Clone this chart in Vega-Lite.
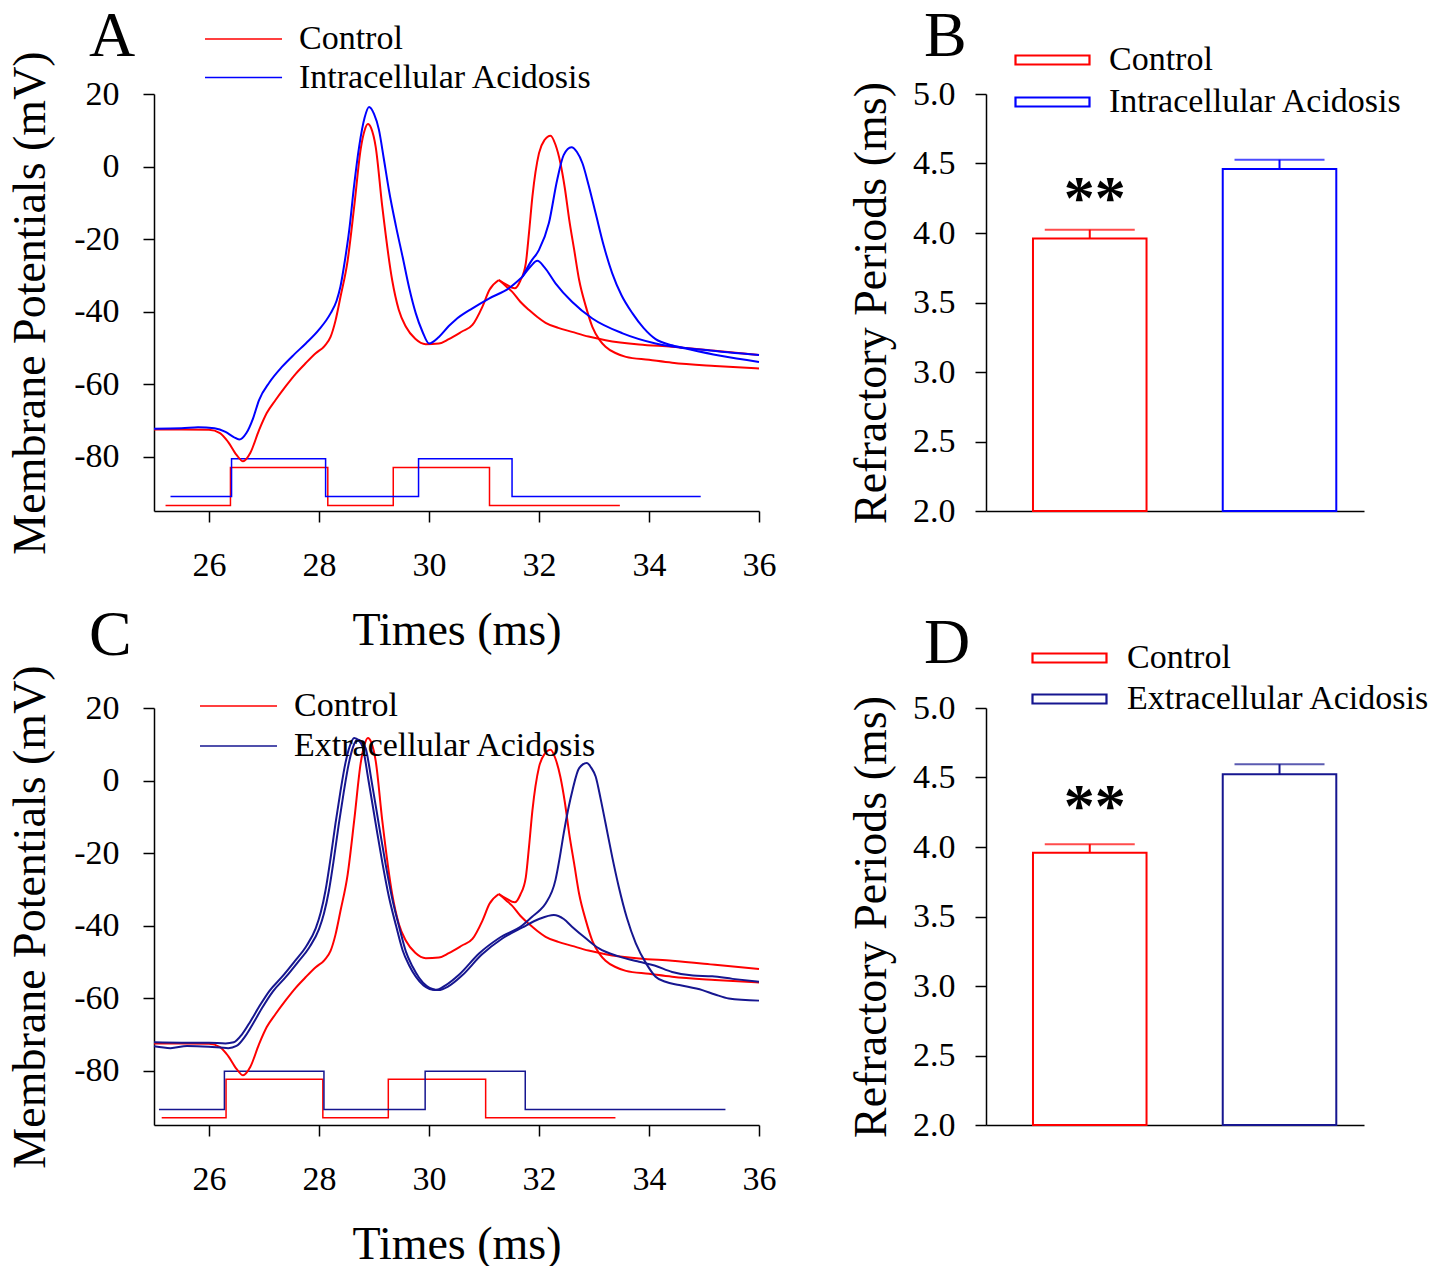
{
"$schema": "https://vega.github.io/schema/vega-lite/v6.json",
"padding": {"left": 7, "top": 5, "right": 0, "bottom": 0},
"background": "white",
"config": {
  "font": "Liberation Serif",
  "view": {"stroke": null},
  "axis": {"grid": false, "domainColor": "black", "domainWidth": 1.5, "tickColor": "black", "tickWidth": 1.5, "tickSize": 11, "labelFont": "Liberation Serif", "labelFontSize": 34, "labelColor": "black", "labelPadding": 24, "titleFont": "Liberation Serif", "titleFontSize": 46, "titleFontWeight": "normal", "titleColor": "black"},
  "legend": {"labelFont": "Liberation Serif", "labelFontSize": 34, "labelColor": "black", "labelLimit": 500},
  "title": {"font": "Liberation Serif", "fontSize": 64, "fontWeight": "normal", "color": "black", "anchor": "start", "frame": "group"}
},
"resolve": {"scale": {"color": "independent", "stroke": "independent"}, "legend": {"color": "independent", "stroke": "independent"}},
"datasets": {
  "lineA": [
    {"s":"Control","tr":"c0","t":25.0,"v":-72.5},{"s":"Control","tr":"c0","t":25.5,"v":-72.5},{"s":"Control","tr":"c0","t":26.0,"v":-72.6},{"s":"Control","tr":"c0","t":26.2,"v":-73.5},{"s":"Control","tr":"c0","t":26.35,"v":-76},{"s":"Control","tr":"c0","t":26.5,"v":-79.5},{"s":"Control","tr":"c0","t":26.62,"v":-81.3},{"s":"Control","tr":"c0","t":26.75,"v":-79},{"s":"Control","tr":"c0","t":26.91,"v":-72.7},{"s":"Control","tr":"c0","t":27.05,"v":-68},{"s":"Control","tr":"c0","t":27.21,"v":-64.4},{"s":"Control","tr":"c0","t":27.4,"v":-60.5},{"s":"Control","tr":"c0","t":27.58,"v":-57.1},{"s":"Control","tr":"c0","t":27.76,"v":-54.2},{"s":"Control","tr":"c0","t":27.94,"v":-51.5},{"s":"Control","tr":"c0","t":28.1,"v":-49.5},{"s":"Control","tr":"c0","t":28.21,"v":-47},{"s":"Control","tr":"c0","t":28.3,"v":-42.5},{"s":"Control","tr":"c0","t":28.39,"v":-36},{"s":"Control","tr":"c0","t":28.52,"v":-26},{"s":"Control","tr":"c0","t":28.64,"v":-11},{"s":"Control","tr":"c0","t":28.76,"v":5},{"s":"Control","tr":"c0","t":28.83,"v":10},{"s":"Control","tr":"c0","t":28.89,"v":11.7},{"s":"Control","tr":"c0","t":28.95,"v":10.5},{"s":"Control","tr":"c0","t":29.03,"v":5.5},{"s":"Control","tr":"c0","t":29.15,"v":-11},{"s":"Control","tr":"c0","t":29.33,"v":-31.3},{"s":"Control","tr":"c0","t":29.45,"v":-39.5},{"s":"Control","tr":"c0","t":29.58,"v":-44.2},{"s":"Control","tr":"c0","t":29.75,"v":-47.5},{"s":"Control","tr":"c0","t":29.94,"v":-49},{"s":"Control","tr":"c0","t":30.18,"v":-48.8},{"s":"Control","tr":"c0","t":30.36,"v":-47.6},{"s":"Control","tr":"c0","t":30.6,"v":-45.5},{"s":"Control","tr":"c0","t":30.79,"v":-43.7},{"s":"Control","tr":"c0","t":30.97,"v":-38.7},{"s":"Control","tr":"c0","t":31.1,"v":-34},{"s":"Control","tr":"c0","t":31.27,"v":-31.3},
    {"s":"Control","tr":"c1","t":31.27,"v":-31.3},{"s":"Control","tr":"c1","t":31.4,"v":-32.5},{"s":"Control","tr":"c1","t":31.56,"v":-33.6},{"s":"Control","tr":"c1","t":31.66,"v":-31.5},{"s":"Control","tr":"c1","t":31.76,"v":-26.7},{"s":"Control","tr":"c1","t":31.82,"v":-18},{"s":"Control","tr":"c1","t":31.88,"v":-8.3},{"s":"Control","tr":"c1","t":32.0,"v":3.7},{"s":"Control","tr":"c1","t":32.1,"v":7.3},{"s":"Control","tr":"c1","t":32.21,"v":8.5},{"s":"Control","tr":"c1","t":32.3,"v":6},{"s":"Control","tr":"c1","t":32.39,"v":0.9},{"s":"Control","tr":"c1","t":32.47,"v":-6},{"s":"Control","tr":"c1","t":32.55,"v":-14.7},{"s":"Control","tr":"c1","t":32.64,"v":-23},{"s":"Control","tr":"c1","t":32.73,"v":-31.3},{"s":"Control","tr":"c1","t":32.85,"v":-38.5},{"s":"Control","tr":"c1","t":32.97,"v":-44.2},{"s":"Control","tr":"c1","t":33.1,"v":-47.8},{"s":"Control","tr":"c1","t":33.21,"v":-49.7},{"s":"Control","tr":"c1","t":33.4,"v":-51.5},{"s":"Control","tr":"c1","t":33.58,"v":-52.5},{"s":"Control","tr":"c1","t":34.0,"v":-53.3},{"s":"Control","tr":"c1","t":34.42,"v":-54.1},{"s":"Control","tr":"c1","t":35.2,"v":-55},{"s":"Control","tr":"c1","t":36.0,"v":-55.7},
    {"s":"Control","tr":"c2","t":31.27,"v":-31.3},{"s":"Control","tr":"c2","t":31.4,"v":-33},{"s":"Control","tr":"c2","t":31.51,"v":-34.5},{"s":"Control","tr":"c2","t":31.66,"v":-37.3},{"s":"Control","tr":"c2","t":31.82,"v":-39.6},{"s":"Control","tr":"c2","t":31.97,"v":-41.5},{"s":"Control","tr":"c2","t":32.12,"v":-43.1},{"s":"Control","tr":"c2","t":32.35,"v":-44.5},{"s":"Control","tr":"c2","t":32.6,"v":-45.6},{"s":"Control","tr":"c2","t":32.9,"v":-46.9},{"s":"Control","tr":"c2","t":33.21,"v":-47.9},{"s":"Control","tr":"c2","t":33.82,"v":-49.1},{"s":"Control","tr":"c2","t":34.42,"v":-49.7},{"s":"Control","tr":"c2","t":35.2,"v":-50.8},{"s":"Control","tr":"c2","t":36.0,"v":-52},
    {"s":"Intracellular Acidosis","tr":"i0","t":25.0,"v":-72.3},{"s":"Intracellular Acidosis","tr":"i0","t":25.5,"v":-72.2},{"s":"Intracellular Acidosis","tr":"i0","t":25.8,"v":-71.9},{"s":"Intracellular Acidosis","tr":"i0","t":26.1,"v":-72.2},{"s":"Intracellular Acidosis","tr":"i0","t":26.3,"v":-73.2},{"s":"Intracellular Acidosis","tr":"i0","t":26.45,"v":-74.6},{"s":"Intracellular Acidosis","tr":"i0","t":26.55,"v":-75.3},{"s":"Intracellular Acidosis","tr":"i0","t":26.68,"v":-73.5},{"s":"Intracellular Acidosis","tr":"i0","t":26.8,"v":-69.5},{"s":"Intracellular Acidosis","tr":"i0","t":26.91,"v":-64.4},{"s":"Intracellular Acidosis","tr":"i0","t":27.1,"v":-59.5},{"s":"Intracellular Acidosis","tr":"i0","t":27.33,"v":-55.2},{"s":"Intracellular Acidosis","tr":"i0","t":27.55,"v":-51.8},{"s":"Intracellular Acidosis","tr":"i0","t":27.76,"v":-48.8},{"s":"Intracellular Acidosis","tr":"i0","t":28.0,"v":-45},{"s":"Intracellular Acidosis","tr":"i0","t":28.21,"v":-40.5},{"s":"Intracellular Acidosis","tr":"i0","t":28.32,"v":-37},{"s":"Intracellular Acidosis","tr":"i0","t":28.39,"v":-33.1},{"s":"Intracellular Acidosis","tr":"i0","t":28.47,"v":-26},{"s":"Intracellular Acidosis","tr":"i0","t":28.55,"v":-17.5},{"s":"Intracellular Acidosis","tr":"i0","t":28.64,"v":-5},{"s":"Intracellular Acidosis","tr":"i0","t":28.73,"v":5.5},{"s":"Intracellular Acidosis","tr":"i0","t":28.83,"v":13.5},{"s":"Intracellular Acidosis","tr":"i0","t":28.91,"v":16.4},{"s":"Intracellular Acidosis","tr":"i0","t":29.0,"v":14.5},{"s":"Intracellular Acidosis","tr":"i0","t":29.09,"v":10.1},{"s":"Intracellular Acidosis","tr":"i0","t":29.18,"v":2},{"s":"Intracellular Acidosis","tr":"i0","t":29.27,"v":-6.4},{"s":"Intracellular Acidosis","tr":"i0","t":29.4,"v":-16.5},{"s":"Intracellular Acidosis","tr":"i0","t":29.52,"v":-24.9},{"s":"Intracellular Acidosis","tr":"i0","t":29.64,"v":-33.5},{"s":"Intracellular Acidosis","tr":"i0","t":29.76,"v":-40.5},{"s":"Intracellular Acidosis","tr":"i0","t":29.88,"v":-45.5},{"s":"Intracellular Acidosis","tr":"i0","t":30.0,"v":-48.8},{"s":"Intracellular Acidosis","tr":"i0","t":30.18,"v":-47},{"s":"Intracellular Acidosis","tr":"i0","t":30.36,"v":-44},{"s":"Intracellular Acidosis","tr":"i0","t":30.48,"v":-42.3},{"s":"Intracellular Acidosis","tr":"i0","t":30.79,"v":-39.1},{"s":"Intracellular Acidosis","tr":"i0","t":31.09,"v":-36.4},{"s":"Intracellular Acidosis","tr":"i0","t":31.45,"v":-33.6},{"s":"Intracellular Acidosis","tr":"i0","t":31.7,"v":-30.4},
    {"s":"Intracellular Acidosis","tr":"i1","t":31.7,"v":-30.4},{"s":"Intracellular Acidosis","tr":"i1","t":31.85,"v":-27.5},{"s":"Intracellular Acidosis","tr":"i1","t":31.97,"v":-26},{"s":"Intracellular Acidosis","tr":"i1","t":32.1,"v":-27.8},{"s":"Intracellular Acidosis","tr":"i1","t":32.3,"v":-32.2},{"s":"Intracellular Acidosis","tr":"i1","t":32.6,"v":-37.3},{"s":"Intracellular Acidosis","tr":"i1","t":32.97,"v":-41.9},{"s":"Intracellular Acidosis","tr":"i1","t":33.52,"v":-46},{"s":"Intracellular Acidosis","tr":"i1","t":34.12,"v":-48.8},{"s":"Intracellular Acidosis","tr":"i1","t":35.03,"v":-50.6},{"s":"Intracellular Acidosis","tr":"i1","t":36.0,"v":-52},
    {"s":"Intracellular Acidosis","tr":"i2","t":31.7,"v":-30.4},{"s":"Intracellular Acidosis","tr":"i2","t":31.85,"v":-26.3},{"s":"Intracellular Acidosis","tr":"i2","t":32.0,"v":-23},{"s":"Intracellular Acidosis","tr":"i2","t":32.18,"v":-15.6},{"s":"Intracellular Acidosis","tr":"i2","t":32.33,"v":-3.7},{"s":"Intracellular Acidosis","tr":"i2","t":32.45,"v":3.2},{"s":"Intracellular Acidosis","tr":"i2","t":32.59,"v":5.3},{"s":"Intracellular Acidosis","tr":"i2","t":32.69,"v":4},{"s":"Intracellular Acidosis","tr":"i2","t":32.79,"v":0.9},{"s":"Intracellular Acidosis","tr":"i2","t":32.9,"v":-5},{"s":"Intracellular Acidosis","tr":"i2","t":33.03,"v":-12.9},{"s":"Intracellular Acidosis","tr":"i2","t":33.18,"v":-22},{"s":"Intracellular Acidosis","tr":"i2","t":33.33,"v":-29.4},{"s":"Intracellular Acidosis","tr":"i2","t":33.5,"v":-35.5},{"s":"Intracellular Acidosis","tr":"i2","t":33.7,"v":-40.5},{"s":"Intracellular Acidosis","tr":"i2","t":33.9,"v":-44.5},{"s":"Intracellular Acidosis","tr":"i2","t":34.12,"v":-47.6},{"s":"Intracellular Acidosis","tr":"i2","t":34.42,"v":-49.3},{"s":"Intracellular Acidosis","tr":"i2","t":34.73,"v":-50.4},{"s":"Intracellular Acidosis","tr":"i2","t":35.3,"v":-52.2},{"s":"Intracellular Acidosis","tr":"i2","t":36.0,"v":-53.9}
  ],
  "stimA": [
    {"s":"Control","t":25.21,"v":-93.5},{"s":"Control","t":26.39,"v":-83},{"s":"Control","t":28.16,"v":-93.5},{"s":"Control","t":29.35,"v":-83},{"s":"Control","t":31.1,"v":-93.5},{"s":"Control","t":33.47,"v":-93.5},
    {"s":"Intracellular Acidosis","t":25.3,"v":-91},{"s":"Intracellular Acidosis","t":26.41,"v":-80.6},{"s":"Intracellular Acidosis","t":28.12,"v":-91},{"s":"Intracellular Acidosis","t":29.81,"v":-80.6},{"s":"Intracellular Acidosis","t":31.51,"v":-91},{"s":"Intracellular Acidosis","t":34.94,"v":-91}
  ],
  "lineC": [
    {"s":"Control","tr":"c0","t":25.0,"v":-72.5},{"s":"Control","tr":"c0","t":25.5,"v":-72.5},{"s":"Control","tr":"c0","t":26.0,"v":-72.6},{"s":"Control","tr":"c0","t":26.2,"v":-73.5},{"s":"Control","tr":"c0","t":26.35,"v":-76},{"s":"Control","tr":"c0","t":26.5,"v":-79.5},{"s":"Control","tr":"c0","t":26.62,"v":-81.3},{"s":"Control","tr":"c0","t":26.75,"v":-79},{"s":"Control","tr":"c0","t":26.91,"v":-72.7},{"s":"Control","tr":"c0","t":27.05,"v":-68},{"s":"Control","tr":"c0","t":27.21,"v":-64.4},{"s":"Control","tr":"c0","t":27.4,"v":-60.5},{"s":"Control","tr":"c0","t":27.58,"v":-57.1},{"s":"Control","tr":"c0","t":27.76,"v":-54.2},{"s":"Control","tr":"c0","t":27.94,"v":-51.5},{"s":"Control","tr":"c0","t":28.1,"v":-49.5},{"s":"Control","tr":"c0","t":28.21,"v":-47},{"s":"Control","tr":"c0","t":28.3,"v":-42.5},{"s":"Control","tr":"c0","t":28.39,"v":-36},{"s":"Control","tr":"c0","t":28.52,"v":-26},{"s":"Control","tr":"c0","t":28.64,"v":-11},{"s":"Control","tr":"c0","t":28.76,"v":5},{"s":"Control","tr":"c0","t":28.83,"v":10},{"s":"Control","tr":"c0","t":28.89,"v":11.7},{"s":"Control","tr":"c0","t":28.95,"v":10.5},{"s":"Control","tr":"c0","t":29.03,"v":5.5},{"s":"Control","tr":"c0","t":29.15,"v":-11},{"s":"Control","tr":"c0","t":29.33,"v":-31.3},{"s":"Control","tr":"c0","t":29.45,"v":-39.5},{"s":"Control","tr":"c0","t":29.58,"v":-44.2},{"s":"Control","tr":"c0","t":29.75,"v":-47.5},{"s":"Control","tr":"c0","t":29.94,"v":-49},{"s":"Control","tr":"c0","t":30.18,"v":-48.8},{"s":"Control","tr":"c0","t":30.36,"v":-47.6},{"s":"Control","tr":"c0","t":30.6,"v":-45.5},{"s":"Control","tr":"c0","t":30.79,"v":-43.7},{"s":"Control","tr":"c0","t":30.97,"v":-38.7},{"s":"Control","tr":"c0","t":31.1,"v":-34},{"s":"Control","tr":"c0","t":31.27,"v":-31.3},
    {"s":"Control","tr":"c1","t":31.27,"v":-31.3},{"s":"Control","tr":"c1","t":31.4,"v":-32.5},{"s":"Control","tr":"c1","t":31.56,"v":-33.6},{"s":"Control","tr":"c1","t":31.66,"v":-31.5},{"s":"Control","tr":"c1","t":31.76,"v":-26.7},{"s":"Control","tr":"c1","t":31.82,"v":-18},{"s":"Control","tr":"c1","t":31.88,"v":-8.3},{"s":"Control","tr":"c1","t":32.0,"v":3.7},{"s":"Control","tr":"c1","t":32.1,"v":7.3},{"s":"Control","tr":"c1","t":32.21,"v":8.5},{"s":"Control","tr":"c1","t":32.3,"v":6},{"s":"Control","tr":"c1","t":32.39,"v":0.9},{"s":"Control","tr":"c1","t":32.47,"v":-6},{"s":"Control","tr":"c1","t":32.55,"v":-14.7},{"s":"Control","tr":"c1","t":32.64,"v":-23},{"s":"Control","tr":"c1","t":32.73,"v":-31.3},{"s":"Control","tr":"c1","t":32.85,"v":-38.5},{"s":"Control","tr":"c1","t":32.97,"v":-44.2},{"s":"Control","tr":"c1","t":33.1,"v":-47.8},{"s":"Control","tr":"c1","t":33.21,"v":-49.7},{"s":"Control","tr":"c1","t":33.4,"v":-51.5},{"s":"Control","tr":"c1","t":33.58,"v":-52.5},{"s":"Control","tr":"c1","t":34.0,"v":-53.3},{"s":"Control","tr":"c1","t":34.42,"v":-54.1},{"s":"Control","tr":"c1","t":35.2,"v":-55},{"s":"Control","tr":"c1","t":36.0,"v":-55.7},
    {"s":"Control","tr":"c2","t":31.27,"v":-31.3},{"s":"Control","tr":"c2","t":31.4,"v":-33},{"s":"Control","tr":"c2","t":31.51,"v":-34.5},{"s":"Control","tr":"c2","t":31.66,"v":-37.3},{"s":"Control","tr":"c2","t":31.82,"v":-39.6},{"s":"Control","tr":"c2","t":31.97,"v":-41.5},{"s":"Control","tr":"c2","t":32.12,"v":-43.1},{"s":"Control","tr":"c2","t":32.35,"v":-44.5},{"s":"Control","tr":"c2","t":32.6,"v":-45.6},{"s":"Control","tr":"c2","t":32.9,"v":-46.9},{"s":"Control","tr":"c2","t":33.21,"v":-47.9},{"s":"Control","tr":"c2","t":33.82,"v":-49.1},{"s":"Control","tr":"c2","t":34.42,"v":-49.7},{"s":"Control","tr":"c2","t":35.2,"v":-50.8},{"s":"Control","tr":"c2","t":36.0,"v":-52},
    {"s":"Extracellular Acidosis","tr":"n1","t":25.0,"v":-72.2},{"s":"Extracellular Acidosis","tr":"n1","t":25.5,"v":-72.3},{"s":"Extracellular Acidosis","tr":"n1","t":26.0,"v":-72.3},{"s":"Extracellular Acidosis","tr":"n1","t":26.3,"v":-72.5},{"s":"Extracellular Acidosis","tr":"n1","t":26.45,"v":-72.2},{"s":"Extracellular Acidosis","tr":"n1","t":26.6,"v":-70},{"s":"Extracellular Acidosis","tr":"n1","t":26.75,"v":-66.5},{"s":"Extracellular Acidosis","tr":"n1","t":26.91,"v":-62.4},{"s":"Extracellular Acidosis","tr":"n1","t":27.1,"v":-58},{"s":"Extracellular Acidosis","tr":"n1","t":27.33,"v":-54.1},{"s":"Extracellular Acidosis","tr":"n1","t":27.55,"v":-50},{"s":"Extracellular Acidosis","tr":"n1","t":27.76,"v":-45.9},{"s":"Extracellular Acidosis","tr":"n1","t":27.94,"v":-40.8},{"s":"Extracellular Acidosis","tr":"n1","t":28.03,"v":-36.5},{"s":"Extracellular Acidosis","tr":"n1","t":28.12,"v":-30.2},{"s":"Extracellular Acidosis","tr":"n1","t":28.21,"v":-21.5},{"s":"Extracellular Acidosis","tr":"n1","t":28.3,"v":-11.8},{"s":"Extracellular Acidosis","tr":"n1","t":28.39,"v":-3},{"s":"Extracellular Acidosis","tr":"n1","t":28.48,"v":4.8},{"s":"Extracellular Acidosis","tr":"n1","t":28.56,"v":9.5},{"s":"Extracellular Acidosis","tr":"n1","t":28.64,"v":11.7},{"s":"Extracellular Acidosis","tr":"n1","t":28.72,"v":11},{"s":"Extracellular Acidosis","tr":"n1","t":28.79,"v":9.4},{"s":"Extracellular Acidosis","tr":"n1","t":28.9,"v":0},{"s":"Extracellular Acidosis","tr":"n1","t":29.03,"v":-11.8},{"s":"Extracellular Acidosis","tr":"n1","t":29.15,"v":-22.5},{"s":"Extracellular Acidosis","tr":"n1","t":29.27,"v":-32},{"s":"Extracellular Acidosis","tr":"n1","t":29.4,"v":-40},{"s":"Extracellular Acidosis","tr":"n1","t":29.52,"v":-46.8},{"s":"Extracellular Acidosis","tr":"n1","t":29.64,"v":-51},{"s":"Extracellular Acidosis","tr":"n1","t":29.76,"v":-54.1},{"s":"Extracellular Acidosis","tr":"n1","t":29.9,"v":-56.5},{"s":"Extracellular Acidosis","tr":"n1","t":30.12,"v":-57.8},{"s":"Extracellular Acidosis","tr":"n1","t":30.3,"v":-56.5},{"s":"Extracellular Acidosis","tr":"n1","t":30.55,"v":-53.5},{"s":"Extracellular Acidosis","tr":"n1","t":30.91,"v":-47.7},{"s":"Extracellular Acidosis","tr":"n1","t":31.27,"v":-43.5},{"s":"Extracellular Acidosis","tr":"n1","t":31.7,"v":-39.9},{"s":"Extracellular Acidosis","tr":"n1","t":31.88,"v":-37.5},{"s":"Extracellular Acidosis","tr":"n1","t":32.0,"v":-36},{"s":"Extracellular Acidosis","tr":"n1","t":32.12,"v":-33.9},{"s":"Extracellular Acidosis","tr":"n1","t":32.3,"v":-27.4},{"s":"Extracellular Acidosis","tr":"n1","t":32.38,"v":-21},{"s":"Extracellular Acidosis","tr":"n1","t":32.45,"v":-14.5},{"s":"Extracellular Acidosis","tr":"n1","t":32.53,"v":-8},{"s":"Extracellular Acidosis","tr":"n1","t":32.61,"v":-2.6},{"s":"Extracellular Acidosis","tr":"n1","t":32.73,"v":3.4},{"s":"Extracellular Acidosis","tr":"n1","t":32.87,"v":4.8},{"s":"Extracellular Acidosis","tr":"n1","t":32.95,"v":3.5},{"s":"Extracellular Acidosis","tr":"n1","t":33.03,"v":1.1},{"s":"Extracellular Acidosis","tr":"n1","t":33.12,"v":-5},{"s":"Extracellular Acidosis","tr":"n1","t":33.21,"v":-11.8},{"s":"Extracellular Acidosis","tr":"n1","t":33.33,"v":-21},{"s":"Extracellular Acidosis","tr":"n1","t":33.45,"v":-29.3},{"s":"Extracellular Acidosis","tr":"n1","t":33.6,"v":-38},{"s":"Extracellular Acidosis","tr":"n1","t":33.76,"v":-44.9},{"s":"Extracellular Acidosis","tr":"n1","t":33.95,"v":-50.5},{"s":"Extracellular Acidosis","tr":"n1","t":34.12,"v":-54.1},{"s":"Extracellular Acidosis","tr":"n1","t":34.3,"v":-55.5},{"s":"Extracellular Acidosis","tr":"n1","t":34.55,"v":-56.4},{"s":"Extracellular Acidosis","tr":"n1","t":34.97,"v":-57.8},{"s":"Extracellular Acidosis","tr":"n1","t":35.2,"v":-59},{"s":"Extracellular Acidosis","tr":"n1","t":35.45,"v":-60.1},{"s":"Extracellular Acidosis","tr":"n1","t":36.0,"v":-60.7},
    {"s":"Extracellular Acidosis","tr":"n2","t":25.0,"v":-73.3},{"s":"Extracellular Acidosis","tr":"n2","t":25.3,"v":-73.8},{"s":"Extracellular Acidosis","tr":"n2","t":25.6,"v":-73.2},{"s":"Extracellular Acidosis","tr":"n2","t":26.0,"v":-73.4},{"s":"Extracellular Acidosis","tr":"n2","t":26.35,"v":-73.8},{"s":"Extracellular Acidosis","tr":"n2","t":26.5,"v":-73.2},{"s":"Extracellular Acidosis","tr":"n2","t":26.66,"v":-70.5},{"s":"Extracellular Acidosis","tr":"n2","t":26.81,"v":-66.8},{"s":"Extracellular Acidosis","tr":"n2","t":26.97,"v":-62.6},{"s":"Extracellular Acidosis","tr":"n2","t":27.16,"v":-58.2},{"s":"Extracellular Acidosis","tr":"n2","t":27.39,"v":-54.3},{"s":"Extracellular Acidosis","tr":"n2","t":27.61,"v":-50.2},{"s":"Extracellular Acidosis","tr":"n2","t":27.82,"v":-46.1},{"s":"Extracellular Acidosis","tr":"n2","t":28.0,"v":-41},{"s":"Extracellular Acidosis","tr":"n2","t":28.09,"v":-36.7},{"s":"Extracellular Acidosis","tr":"n2","t":28.18,"v":-30.4},{"s":"Extracellular Acidosis","tr":"n2","t":28.27,"v":-21.7},{"s":"Extracellular Acidosis","tr":"n2","t":28.36,"v":-12},{"s":"Extracellular Acidosis","tr":"n2","t":28.45,"v":-3.2},{"s":"Extracellular Acidosis","tr":"n2","t":28.54,"v":4.6},{"s":"Extracellular Acidosis","tr":"n2","t":28.62,"v":9.3},{"s":"Extracellular Acidosis","tr":"n2","t":28.7,"v":11.3},{"s":"Extracellular Acidosis","tr":"n2","t":28.78,"v":10.6},{"s":"Extracellular Acidosis","tr":"n2","t":28.85,"v":8.8},{"s":"Extracellular Acidosis","tr":"n2","t":28.96,"v":-0.5},{"s":"Extracellular Acidosis","tr":"n2","t":29.09,"v":-12.3},{"s":"Extracellular Acidosis","tr":"n2","t":29.21,"v":-23},{"s":"Extracellular Acidosis","tr":"n2","t":29.33,"v":-32.5},{"s":"Extracellular Acidosis","tr":"n2","t":29.46,"v":-40.5},{"s":"Extracellular Acidosis","tr":"n2","t":29.58,"v":-47.2},{"s":"Extracellular Acidosis","tr":"n2","t":29.7,"v":-51.3},{"s":"Extracellular Acidosis","tr":"n2","t":29.82,"v":-54.4},{"s":"Extracellular Acidosis","tr":"n2","t":29.96,"v":-56.7},{"s":"Extracellular Acidosis","tr":"n2","t":30.17,"v":-57.8},{"s":"Extracellular Acidosis","tr":"n2","t":30.35,"v":-56.8},{"s":"Extracellular Acidosis","tr":"n2","t":30.6,"v":-53.8},{"s":"Extracellular Acidosis","tr":"n2","t":30.96,"v":-48},{"s":"Extracellular Acidosis","tr":"n2","t":31.32,"v":-43.7},{"s":"Extracellular Acidosis","tr":"n2","t":31.7,"v":-40.5},{"s":"Extracellular Acidosis","tr":"n2","t":32.0,"v":-38.2},{"s":"Extracellular Acidosis","tr":"n2","t":32.27,"v":-37.1},{"s":"Extracellular Acidosis","tr":"n2","t":32.45,"v":-38.2},{"s":"Extracellular Acidosis","tr":"n2","t":32.6,"v":-40.3},{"s":"Extracellular Acidosis","tr":"n2","t":32.85,"v":-43.5},{"s":"Extracellular Acidosis","tr":"n2","t":33.09,"v":-46.3},{"s":"Extracellular Acidosis","tr":"n2","t":33.45,"v":-48.5},{"s":"Extracellular Acidosis","tr":"n2","t":33.82,"v":-50},{"s":"Extracellular Acidosis","tr":"n2","t":34.1,"v":-51},{"s":"Extracellular Acidosis","tr":"n2","t":34.42,"v":-52.8},{"s":"Extracellular Acidosis","tr":"n2","t":34.8,"v":-53.8},{"s":"Extracellular Acidosis","tr":"n2","t":35.15,"v":-54},{"s":"Extracellular Acidosis","tr":"n2","t":35.52,"v":-54.7},{"s":"Extracellular Acidosis","tr":"n2","t":36.0,"v":-55.5}
  ],
  "stimC": [
    {"s":"Control","t":25.14,"v":-93},{"s":"Control","t":26.31,"v":-82.4},{"s":"Control","t":28.07,"v":-93},{"s":"Control","t":29.26,"v":-82.4},{"s":"Control","t":31.03,"v":-93},{"s":"Control","t":33.39,"v":-93},
    {"s":"Extracellular Acidosis","t":25.09,"v":-90.7},{"s":"Extracellular Acidosis","t":26.28,"v":-80.2},{"s":"Extracellular Acidosis","t":28.09,"v":-90.7},{"s":"Extracellular Acidosis","t":29.93,"v":-80.2},{"s":"Extracellular Acidosis","t":31.75,"v":-90.7},{"s":"Extracellular Acidosis","t":35.39,"v":-90.7}
  ],
  "barB": [
    {"g":"Control","v":3.96,"u":4.024,"lab":"**"},
    {"g":"Intracellular Acidosis","v":4.46,"u":4.527,"lab":""}
  ],
  "barD": [
    {"g":"Control","v":3.958,"u":4.02,"lab":"**"},
    {"g":"Extracellular Acidosis","v":4.524,"u":4.596,"lab":""}
  ]
},
"columns": 2,
"bounds": "flush",
"spacing": {"row": 197, "column": 227},
"concat": [
  {
    "width": 605, "height": 417,
    "title": {"text": "A", "dx": -65, "dy": 104, "baseline": "alphabetic"},
    "layer": [
      {"data": {"name": "stimA"},
       "mark": {"type": "line", "interpolate": "step-after", "strokeWidth": 1.5},
       "encoding": {
         "x": {"field": "t", "type": "quantitative", "scale": {"domain": [25, 36], "nice": false, "zero": false}, "axis": {"values": [26, 28, 30, 32, 34, 36], "format": "d", "labelFlush": false, "labelPadding": 26, "title": "Times (ms)", "titlePadding": 26}},
         "y": {"field": "v", "type": "quantitative", "scale": {"domain": [-95, 20], "nice": false, "zero": false}, "axis": {"values": [-80, -60, -40, -20, 0, 20], "labelExpr": "replace(datum.label, '\u2212', '-')", "title": "Membrane Potentials (mV)", "titlePadding": 19}},
         "color": {"field": "s", "type": "nominal", "scale": {"domain": ["Control", "Intracellular Acidosis"], "range": ["#ff0000", "#0000ff"]},
           "legend": {"orient": "none", "legendX": 50, "legendY": -74, "title": null, "symbolType": "M-1,0H3.28", "symbolSize": 1296, "symbolStrokeWidth": 1.5, "labelOffset": 57, "rowPadding": 2.5}}
       }},
      {"data": {"name": "lineA"},
       "mark": {"type": "line", "interpolate": "monotone", "strokeWidth": 2},
       "encoding": {
         "x": {"field": "t", "type": "quantitative"},
         "y": {"field": "v", "type": "quantitative"},
         "color": {"field": "s", "type": "nominal",
           "legend": {"orient": "none", "legendX": 50, "legendY": -74, "title": null, "symbolType": "M-1,0H3.28", "symbolSize": 1296, "symbolStrokeWidth": 1.5, "labelOffset": 57, "rowPadding": 2.5}},
         "detail": {"field": "tr", "type": "nominal"}
       }}
    ]
  },
  {
    "width": 378, "height": 417,
    "title": {"text": "B", "dx": -62, "dy": 84, "baseline": "alphabetic"},
    "data": {"name": "barB"},
    "encoding": {
      "x": {"field": "g", "type": "nominal", "sort": null, "scale": {"paddingInner": 0.4016, "paddingOuter": 0.1968, "align": 0.629}, "axis": {"labels": false, "ticks": false, "title": null}}
    },
    "layer": [
      {"mark": {"type": "bar", "fill": "white", "strokeWidth": 2},
       "encoding": {
         "y": {"field": "v", "type": "quantitative", "scale": {"domain": [2, 5], "nice": false, "zero": false}, "axis": {"values": [2, 2.5, 3, 3.5, 4, 4.5, 5], "format": ".1f", "title": "Refractory Periods (ms)", "titlePadding": 17, "labelPadding": 20}},
         "y2": {"datum": 2},
         "stroke": {"field": "g", "type": "nominal", "scale": {"domain": ["Control", "Intracellular Acidosis"], "range": ["#ff0000", "#0000ff"]},
           "legend": {"orient": "none", "legendX": 28, "legendY": -54, "title": null, "symbolType": "M-1,-0.263H2.947V0.263H-1Z M-0.947,-0.21V0.21H2.894V-0.21Z", "symbolSize": 1444, "symbolStrokeWidth": 1.2, "symbolFillColor": "white", "labelOffset": 55, "rowPadding": 5}}
       }},
      {"mark": {"type": "rule", "strokeWidth": 2},
       "encoding": {
         "y": {"field": "v", "type": "quantitative", "axis": {"title": "Refractory Periods (ms)"}},
         "y2": {"field": "u"},
         "color": {"field": "g", "type": "nominal", "scale": {"domain": ["Control", "Intracellular Acidosis"], "range": ["#ff0000", "#0000ff"]}, "legend": null}
       }},
      {"mark": {"type": "tick", "size": 90, "thickness": 2},
       "encoding": {
         "y": {"field": "u", "type": "quantitative", "axis": {"title": "Refractory Periods (ms)"}},
         "color": {"field": "g", "type": "nominal", "legend": null}
       }},
      {"mark": {"type": "text", "fontSize": 62, "fontWeight": "bold", "baseline": "alphabetic", "dy": -12, "dx": 5, "color": "black"},
       "encoding": {
         "y": {"field": "u", "type": "quantitative", "axis": {"title": "Refractory Periods (ms)"}},
         "text": {"field": "lab"}
       }}
    ]
  },
  {
    "width": 605, "height": 417,
    "title": {"text": "C", "dx": -65, "dy": 58, "baseline": "alphabetic"},
    "layer": [
      {"data": {"name": "stimC"},
       "mark": {"type": "line", "interpolate": "step-after", "strokeWidth": 1.5},
       "encoding": {
         "x": {"field": "t", "type": "quantitative", "scale": {"domain": [25, 36], "nice": false, "zero": false}, "axis": {"values": [26, 28, 30, 32, 34, 36], "format": "d", "labelFlush": false, "labelPadding": 26, "title": "Times (ms)", "titlePadding": 26}},
         "y": {"field": "v", "type": "quantitative", "scale": {"domain": [-95, 20], "nice": false, "zero": false}, "axis": {"values": [-80, -60, -40, -20, 0, 20], "labelExpr": "replace(datum.label, '\u2212', '-')", "title": "Membrane Potentials (mV)", "titlePadding": 19}},
         "color": {"field": "s", "type": "nominal", "scale": {"domain": ["Control", "Extracellular Acidosis"], "range": ["#ff0000", "#161690"]},
           "legend": {"orient": "none", "legendX": 45, "legendY": -21, "title": null, "symbolType": "M-1,0H3.28", "symbolSize": 1296, "symbolStrokeWidth": 1.5, "labelOffset": 57, "rowPadding": 4}}
       }},
      {"data": {"name": "lineC"},
       "mark": {"type": "line", "interpolate": "monotone", "strokeWidth": 2},
       "encoding": {
         "x": {"field": "t", "type": "quantitative"},
         "y": {"field": "v", "type": "quantitative"},
         "color": {"field": "s", "type": "nominal",
           "legend": {"orient": "none", "legendX": 45, "legendY": -21, "title": null, "symbolType": "M-1,0H3.28", "symbolSize": 1296, "symbolStrokeWidth": 1.5, "labelOffset": 57, "rowPadding": 4}},
         "detail": {"field": "tr", "type": "nominal"}
       }}
    ]
  },
  {
    "width": 378, "height": 417,
    "title": {"text": "D", "dx": -62, "dy": 93, "baseline": "alphabetic"},
    "data": {"name": "barD"},
    "encoding": {
      "x": {"field": "g", "type": "nominal", "sort": null, "scale": {"paddingInner": 0.4016, "paddingOuter": 0.1968, "align": 0.629}, "axis": {"labels": false, "ticks": false, "title": null}}
    },
    "layer": [
      {"mark": {"type": "bar", "fill": "white", "strokeWidth": 2},
       "encoding": {
         "y": {"field": "v", "type": "quantitative", "scale": {"domain": [2, 5], "nice": false, "zero": false}, "axis": {"values": [2, 2.5, 3, 3.5, 4, 4.5, 5], "format": ".1f", "title": "Refractory Periods (ms)", "titlePadding": 17, "labelPadding": 20}},
         "y2": {"datum": 2},
         "stroke": {"field": "g", "type": "nominal", "scale": {"domain": ["Control", "Extracellular Acidosis"], "range": ["#ff0000", "#161690"]},
           "legend": {"orient": "none", "legendX": 45, "legendY": -70, "title": null, "symbolType": "M-1,-0.263H2.947V0.263H-1Z M-0.947,-0.21V0.21H2.894V-0.21Z", "symbolSize": 1444, "symbolStrokeWidth": 1.2, "symbolFillColor": "white", "labelOffset": 56, "rowPadding": 4}}
       }},
      {"mark": {"type": "rule", "strokeWidth": 2},
       "encoding": {
         "y": {"field": "v", "type": "quantitative", "axis": {"title": "Refractory Periods (ms)"}},
         "y2": {"field": "u"},
         "color": {"field": "g", "type": "nominal", "scale": {"domain": ["Control", "Extracellular Acidosis"], "range": ["#ff0000", "#161690"]}, "legend": null}
       }},
      {"mark": {"type": "tick", "size": 90, "thickness": 2},
       "encoding": {
         "y": {"field": "u", "type": "quantitative", "axis": {"title": "Refractory Periods (ms)"}},
         "color": {"field": "g", "type": "nominal", "legend": null}
       }},
      {"mark": {"type": "text", "fontSize": 62, "fontWeight": "bold", "baseline": "alphabetic", "dy": -18, "dx": 5, "color": "black"},
       "encoding": {
         "y": {"field": "u", "type": "quantitative", "axis": {"title": "Refractory Periods (ms)"}},
         "text": {"field": "lab"}
       }}
    ]
  }
]
}
